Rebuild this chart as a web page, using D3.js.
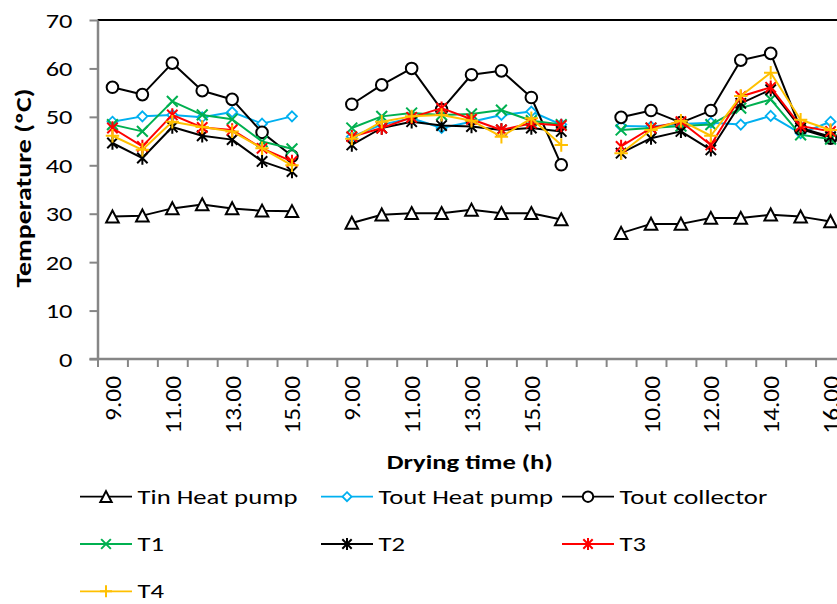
<!DOCTYPE html>
<html><head><meta charset="utf-8">
<script src="https://cdn.jsdelivr.net/npm/d3@7"></script>
<style>html,body{margin:0;padding:0;background:#fff;overflow:hidden}</style>
</head><body><svg id="c" width="837" height="604"></svg>
<script>
// ---------- DATA ----------
const categories = ["9.00","10.00","11.00","12.00","13.00","14.00","15.00","",
  "9.00","10.00","11.00","12.00","13.00","14.00","15.00","16.00","",
  "9.00","10.00","11.00","12.00","13.00","14.00","15.00","16.00"];
const yTicks = [0,10,20,30,40,50,60,70];
const seriesNames = ["Tin Heat pump","Tout Heat pump","Tout collector","T1","T2","T3","T4"];
const tinHeatPump   = [29.4,29.6,31.1,31.9,31.1,30.6,30.5,null, 28.1,29.8,30.1,30.1,30.8,30.1,30.1,28.8,null, 26.0,27.9,27.9,29.1,29.1,29.8,29.4,28.4];
const toutHeatPump  = [49.0,50.1,50.4,49.9,51.0,48.6,50.1,null, 45.9,48.4,49.7,47.7,49.0,50.4,51.1,48.4,null, 48.1,48.0,48.5,48.8,48.4,50.2,46.6,49.0];
const toutCollector = [56.1,54.6,61.1,55.4,53.6,46.8,41.9,null, 52.6,56.6,60.0,51.5,58.7,59.5,54.0,40.1,null, 49.9,51.3,48.8,51.3,61.7,63.1,47.5,45.6];
const t1 = [48.4,47.0,53.2,50.4,49.5,44.9,43.4,null, 47.7,50.1,50.8,50.4,50.6,51.4,49.2,48.4,null, 47.3,47.7,48.1,48.4,51.8,53.6,46.3,45.4];
const t2 = [44.6,41.5,47.9,46.1,45.3,40.8,38.7,null, 44.2,47.7,49.0,48.2,48.0,47.3,47.7,47.0,null, 42.5,45.6,47.0,43.2,52.8,55.6,47.7,45.9];
const t3 = [47.7,43.9,50.4,47.8,47.3,43.5,40.8,null, 45.9,47.7,49.9,51.8,49.5,47.3,48.7,48.2,null, 43.9,47.7,49.0,44.2,54.2,56.1,48.1,47.0];
const t4 = [46.1,43.2,49.0,47.9,47.0,43.5,40.0,null, 45.5,49.0,50.1,50.4,49.2,45.9,49.7,44.2,null, 42.5,47.3,49.2,46.1,54.3,59.1,49.4,47.3];
const seriesColors = ["#000000","#00B0F0","#000000","#00B050","#000000","#FF0000","#FFC000"];
const seriesMarkers = ["triangle","diamond","circle","x","star","star","plus"];

const series = seriesNames.map((n,i)=>({name:n, values:[tinHeatPump,toutHeatPump,toutCollector,t1,t2,t3,t4][i], color:seriesColors[i], marker:seriesMarkers[i]}));

// ---------- LAYOUT ----------
const FONT = "Carlito, Lato, 'Liberation Sans', sans-serif";
const plotLeft = 97.5, plotTop = 20, plotBottom = 359, band = 29.92;
const svg = d3.select("#c");
const x = d3.scaleBand().domain(d3.range(categories.length))
  .range([plotLeft, plotLeft + band*categories.length]).paddingInner(0).paddingOuter(0);
const xb = d3.scaleLinear().domain([0, categories.length]).range(x.range());
const y = d3.scaleLinear().domain([0,70]).range([plotBottom, plotTop]);
const axisGray = "#868686";

// plot border (top visible)
svg.append("line").attr("x1", plotLeft).attr("x2", 837).attr("y1", plotTop).attr("y2", plotTop)
  .attr("stroke", "#000").attr("stroke-width", 2);

// Y axis
const ya = svg.append("g").attr("transform", `translate(${plotLeft},0)`)
  .call(d3.axisLeft(y).tickValues(yTicks).tickSize(8).tickPadding(17).tickSizeOuter(0));
ya.select(".domain").attr("stroke", axisGray).attr("stroke-width", 2.5);
ya.selectAll(".tick line").attr("stroke", axisGray).attr("stroke-width", 2);
ya.selectAll(".tick text").attr("font-family", FONT).attr("font-size", 19.5).attr("fill", "#000")
  .attr("dy", null).attr("y", 7)
  .each(function(){ const t=this.textContent; d3.select(this).attr("textLength", 13.4*t.length).attr("lengthAdjust","spacingAndGlyphs"); });

// X axis: boundary ticks
const xt = svg.append("g").attr("transform", `translate(0,${plotBottom})`)
  .call(d3.axisBottom(xb).tickValues(d3.range(categories.length+1)).tickFormat("").tickSize(8).tickSizeOuter(0));
xt.select(".domain").remove();
xt.selectAll(".tick line").attr("stroke", axisGray).attr("stroke-width", 2);
svg.append("line").attr("x1", plotLeft - 8).attr("x2", 837).attr("y1", plotBottom).attr("y2", plotBottom)
  .attr("stroke", axisGray).attr("stroke-width", 2.5);
// X labels
const xl = svg.append("g").attr("transform", `translate(0,${plotBottom})`)
  .call(d3.axisBottom(x).tickSize(0).tickFormat(i => i % 2 === 0 ? categories[i] : ""));
xl.select(".domain").remove();
xl.selectAll(".tick text").attr("font-family", FONT).attr("font-size", 23).attr("fill", "#000")
  .attr("text-anchor", "end").attr("dy", null).attr("y", 0)
  .attr("transform", "translate(8.5,17) rotate(-90)")
  .each(function(){ const t=this.textContent; if(!t) return;
    const digits = t.replace(".","").length;
    d3.select(this).attr("textLength", digits*12.8 + 6.5).attr("lengthAdjust","spacingAndGlyphs"); });

// Axis titles
svg.append("text").attr("transform", "translate(31,188) rotate(-90)").attr("text-anchor","middle")
  .attr("font-family", FONT).attr("font-weight", "bold").attr("font-size", 22)
  .attr("textLength", 199).attr("lengthAdjust","spacingAndGlyphs").text("Temperature (ºC)");
svg.append("text").attr("x", 469.7).attr("y", 469.3).attr("text-anchor","middle")
  .attr("font-family", FONT).attr("font-weight", "bold").attr("font-size", 21)
  .attr("textLength", 166).attr("lengthAdjust","spacingAndGlyphs").text("Drying time (h)");

// ---------- MARKERS ----------
function marker(g, type, color, s) {
  if (type === "triangle") {
    g.append("path").attr("d", `M0,${-6.2*s} L${6.3*s},${5.8*s} L${-6.3*s},${5.8*s} Z`)
      .attr("fill", "#fff").attr("stroke", color).attr("stroke-width", 2).attr("stroke-linejoin","miter");
  } else if (type === "diamond") {
    g.append("path").attr("d", `M0,${-5*s} L${5*s},0 L0,${5*s} L${-5*s},0 Z`)
      .attr("fill", "#fff").attr("stroke", color).attr("stroke-width", 1.8);
  } else if (type === "circle") {
    g.append("circle").attr("r", 5.8*s).attr("fill", "#fff").attr("stroke", color).attr("stroke-width", 2);
  } else if (type === "x") {
    const d = 5.4*s;
    g.append("path").attr("d", `M${-d},${-d} L${d},${d} M${-d},${d} L${d},${-d}`)
      .attr("stroke", color).attr("stroke-width", 2).attr("fill","none");
  } else if (type === "star") {
    const d = 5.2*s, v = 6.7*s;
    g.append("path").attr("d", `M${-d},${-d} L${d},${d} M${-d},${d} L${d},${-d} M0,${-v} L0,${v}`)
      .attr("stroke", color).attr("stroke-width", 2).attr("fill","none");
  } else if (type === "plus") {
    const d = 6.7*s;
    g.append("path").attr("d", `M${-d},0 L${d},0 M0,${-d} L0,${d}`)
      .attr("stroke", color).attr("stroke-width", 2).attr("fill","none");
  }
}

// ---------- SERIES ----------
const line = d3.line().defined(d => d.v != null).x(d => x(d.i) + x.bandwidth()/2).y(d => y(d.v));
series.forEach(s => {
  const pts = s.values.map((v,i)=>({i, v}));
  const g = svg.append("g");
  g.append("path").datum(pts).attr("d", line).attr("fill","none")
    .attr("stroke", s.color).attr("stroke-width", 2).attr("stroke-linejoin","round");
  pts.filter(d => d.v != null).forEach(d => {
    const mg = g.append("g").attr("transform", `translate(${x(d.i)+x.bandwidth()/2},${y(d.v)})`);
    marker(mg, s.marker, s.color, 1);
  });
});

// ---------- LEGEND ----------
const leg = svg.append("g");
const texts = [];
series.forEach((s, i) => {
  const col = i % 3, row = Math.floor(i / 3);
  const x0 = 80 + col*241, ly = 496.7 + row*47.3;
  const g = leg.append("g").attr("transform", `translate(${x0},${ly})`);
  g.append("line").attr("x1", 0).attr("x2", 52).attr("stroke", s.color).attr("stroke-width", 1.8);
  const mg = g.append("g").attr("transform", "translate(26,0)");
  marker(mg, s.marker, s.color, 0.9);
  const t = g.append("text").attr("x", 57.5).attr("y", 7).attr("font-family", FONT)
    .attr("font-size", 21).attr("fill", "#000").text(s.name);
  texts.push(t);
});
const ratio = 160 / texts[0].node().getComputedTextLength();
texts.forEach(t => t.attr("textLength", t.node().getComputedTextLength()*ratio).attr("lengthAdjust","spacingAndGlyphs"));
</script></body></html>
